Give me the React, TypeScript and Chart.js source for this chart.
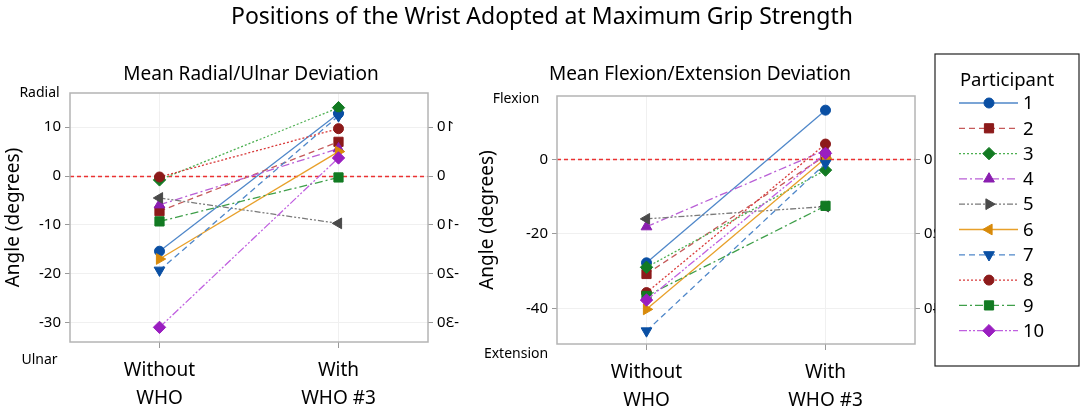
import { useEffect, useRef } from 'react';
import { Chart, registerables } from 'chart.js';
import { drawPoint } from 'chart.js/helpers';

Chart.register(...registerables);

const FONT = '"Noto Sans", "Open Sans", sans-serif';

const groups = [['Without', 'WHO'], ['With', 'WHO #3']];
const participants = ['1', '2', '3', '4', '5', '6', '7', '8', '9', '10'];

// radial (+) / ulnar (-) deviation, degrees
const radialWithout = [-15.4, -7.2, -0.8, -5.9, -4.5, -17.0, -19.3, -0.2, -9.3, -31.0];
const radialWith = [12.8, 7.0, 14.0, 5.6, -9.7, 5.0, 12.3, 9.7, -0.3, 3.7];
const radialTicks = [10, 0, -10, -20, -30];

// flexion (+) / extension (-) deviation, degrees
const flexionWithout = [-27.8, -30.8, -29.0, -18.1, -16.0, -40.3, -46.1, -35.8, -36.7, -37.8];
const flexionWith = [13.2, 1.0, -2.9, 2.5, -12.7, 0.3, -1.1, 4.1, -12.5, 1.6];
const flexionTicks = [0, -20, -40];

const lineColors = ['#4f87c9', '#c55a5a', '#4caf50', '#b95fd6', '#7a7a7a', '#e8a02a', '#4f87c9', '#d83a3a', '#3f9f4a', '#c060e0'];
const markerColors = ['#0a4fa3', '#8c1a1a', '#127a22', '#8a1eb0', '#4a4a4a', '#d88a0a', '#0a4fa3', '#8c1a1a', '#127a22', '#9a1ec0'];
const dashes = [[], [6, 4], [2, 2], [8, 3, 2, 3], [6, 2, 2, 2, 2, 2], [], [6, 4], [2, 2], [8, 3, 2, 3], [8, 2, 2, 2, 2, 2]];
const pointStyles = ['circle', 'rect', 'rectRot', 'triangle', 'triangle', 'triangle', 'triangle', 'circle', 'rect', 'rectRot'];
const pointSizes = [5, 6.5, 6.2, 6.2, 6.2, 6.2, 6.2, 5, 6.5, 6.2];
const chartRotations = [0, 0, 0, 0, -90, 90, 180, 0, 0, 0];
const legendRotations = [0, 0, 0, 0, 90, -90, 180, 0, 0, 0];

// draws zero line, frame, side labels, mirrored right ticks and the legend
const panelDecor = {
  id: 'panelDecor',
  beforeDatasetsDraw(chart: any) {
    const { ctx, chartArea: a, scales } = chart;
    const y0 = Math.round(scales.y.getPixelForValue(0)) + 0.5;
    ctx.save();
    ctx.strokeStyle = '#ea3232';
    ctx.lineWidth = 1.4;
    ctx.setLineDash([4, 3]);
    ctx.beginPath();
    ctx.moveTo(a.left, y0);
    ctx.lineTo(a.right, y0);
    ctx.stroke();
    ctx.restore();
  },
  afterDraw(chart: any, _args: any, o: any) {
    const { ctx, chartArea: a, scales } = chart;
    ctx.save();
    ctx.strokeStyle = '#b4b4b4';
    ctx.lineWidth = 1.5;
    ctx.strokeRect(a.left, a.top, a.right - a.left, a.bottom - a.top);

    ctx.fillStyle = '#000';
    ctx.font = `14px ${FONT}`;
    ctx.textAlign = 'center';
    ctx.textBaseline = 'middle';
    ctx.fillText(o.topLabel, o.labelX, a.top + o.topDy);
    ctx.fillText(o.bottomLabel, o.labelX, a.bottom + o.bottomDy);

    // right axis labels come out mirrored in the original figure
    ctx.font = `15px ${FONT}`;
    for (const v of o.ticks) {
      const y = scales.y2.getPixelForValue(v);
      ctx.save();
      ctx.translate(a.right + 9, y);
      ctx.scale(-1, 1);
      ctx.textAlign = 'right';
      ctx.fillText(String(v), 0, 0);
      ctx.restore();
    }

    if (o.legend) {
      const L = o.legend;
      ctx.fillStyle = '#fff';
      ctx.fillRect(L.x, L.y, L.w, L.h);
      ctx.strokeStyle = '#222';
      ctx.lineWidth = 1.2;
      ctx.strokeRect(L.x, L.y, L.w, L.h);
      ctx.fillStyle = '#000';
      ctx.font = `18.5px ${FONT}`;
      ctx.textAlign = 'center';
      ctx.fillText('Participant', L.x + 72, L.y + 27);
      participants.forEach((p, i) => {
        const y = L.y + 49 + i * 25.3;
        const x0 = L.x + 24;
        const x1 = L.x + 83;
        const xm = L.x + 54;
        ctx.strokeStyle = lineColors[i];
        ctx.lineWidth = 1.3;
        ctx.setLineDash(dashes[i]);
        ctx.beginPath();
        ctx.moveTo(x0, y);
        ctx.lineTo(x1, y);
        ctx.stroke();
        ctx.setLineDash([]);
        ctx.fillStyle = markerColors[i];
        ctx.strokeStyle = markerColors[i];
        ctx.lineWidth = 1;
        drawPoint(ctx, { pointStyle: pointStyles[i], rotation: legendRotations[i], radius: pointSizes[i], borderWidth: 1 } as any, xm, y);
        ctx.fillStyle = '#000';
        ctx.textAlign = 'left';
        ctx.fillText(p, L.x + 88, y + 1);
      });
    }
    ctx.restore();
  },
};

type PanelProps = {
  left: number;
  width: number;
  without: number[];
  withWho: number[];
  ticks: number[];
  min: number;
  max: number;
  top: number;
  xHeight: number;
  yWidth: number;
  y2Width: number;
  padRight: number;
  titlePad: number;
  decor: any;
};

const Panel = (p: PanelProps) => {
  const canvasRef = useRef<HTMLCanvasElement | null>(null);
  const chartRef = useRef<Chart | null>(null);

  useEffect(() => {
    if (!canvasRef.current) return;
    const ctx = canvasRef.current.getContext('2d');
    if (!ctx) return;
    if (chartRef.current) chartRef.current.destroy();

    const setTicks = (s: any) => {
      s.ticks = p.ticks.map((v) => ({ value: v }));
    };

    chartRef.current = new Chart(ctx, {
      type: 'line',
      data: {
        labels: groups,
        datasets: participants.map((name, i) => ({
          label: name,
          data: [p.without[i], p.withWho[i]],
          borderColor: lineColors[i],
          borderWidth: 1.3,
          borderDash: dashes[i],
          pointStyle: pointStyles[i] as any,
          pointRotation: chartRotations[i],
          pointRadius: pointSizes[i],
          pointBackgroundColor: markerColors[i],
          pointBorderColor: markerColors[i],
          pointBorderWidth: 1,
          order: participants.length - i,
        })),
      },
      options: {
        animation: false,
        responsive: true,
        maintainAspectRatio: false,
        layout: { padding: { top: p.top, right: p.padRight, left: 0, bottom: 0 } },
        plugins: {
          legend: { display: false },
          tooltip: { enabled: false },
          panelDecor: p.decor,
        } as any,
        scales: {
          x: {
            type: 'category',
            offset: true,
            grid: { offset: false, color: '#f0f0f0', tickColor: '#999', tickLength: 6 },
            border: { display: false },
            ticks: { color: '#000', font: { family: FONT, size: 19, lineHeight: 1.45 }, padding: 9, maxRotation: 0 },
            afterFit: (s: any) => {
              s.height = p.xHeight;
            },
          },
          y: {
            min: p.min,
            max: p.max,
            position: 'left',
            grid: { color: '#f0f0f0', tickColor: '#999', tickLength: 5 },
            border: { display: false },
            ticks: { color: '#000', font: { family: FONT, size: 15 }, padding: 4 },
            title: {
              display: true,
              text: 'Angle (degrees)',
              color: '#000',
              font: { family: FONT, size: 19 },
              padding: { top: p.titlePad, bottom: 0 },
            },
            afterBuildTicks: setTicks,
            afterFit: (s: any) => {
              s.width = p.yWidth;
            },
          },
          y2: {
            min: p.min,
            max: p.max,
            position: 'right',
            grid: { drawOnChartArea: false, tickColor: '#999', tickLength: 5 },
            border: { display: false },
            ticks: { display: false },
            afterBuildTicks: setTicks,
            afterFit: (s: any) => {
              s.width = p.y2Width;
            },
          },
        } as any,
      },
      plugins: [panelDecor],
    });

    return () => {
      chartRef.current?.destroy();
    };
  }, []);

  return (
    <div style={{ position: 'absolute', left: p.left, top: 0, width: p.width, height: 407 }}>
      <canvas ref={canvasRef} />
    </div>
  );
};

const subTitle = (text: string, cx: number) => (
  <div
    style={{
      position: 'absolute',
      left: cx - 250,
      width: 500,
      top: 61,
      lineHeight: '24px',
      fontSize: 19,
      textAlign: 'center',
      color: '#000',
    }}
  >
    {text}
  </div>
);

const App = () => {
  return (
    <div
      style={{
        position: 'absolute',
        left: 0,
        top: 0,
        width: 1084,
        height: 407,
        background: '#fff',
        fontFamily: FONT,
        overflow: 'hidden',
      }}
    >
      <Panel
        left={0}
        width={480}
        without={radialWithout}
        withWho={radialWith}
        ticks={radialTicks}
        min={-34}
        max={17}
        top={93}
        xHeight={65}
        yWidth={70}
        y2Width={52}
        padRight={0}
        titlePad={2}
        decor={{ ticks: radialTicks, topLabel: 'Radial', bottomLabel: 'Ulnar', labelX: 39.5, topDy: 0, bottomDy: 18 }}
      />
      <Panel
        left={470}
        width={614}
        without={flexionWithout}
        withWho={flexionWith}
        ticks={flexionTicks}
        min={-49.6}
        max={17}
        top={96}
        xHeight={63}
        yWidth={87}
        y2Width={20}
        padRight={149}
        titlePad={6}
        decor={{
          ticks: flexionTicks,
          topLabel: 'Flexion',
          bottomLabel: 'Extension',
          labelX: 46,
          topDy: 3,
          bottomDy: 10,
          legend: { x: 465, y: 54, w: 144, h: 312 },
        }}
      />
      <div
        style={{
          position: 'absolute',
          left: 0,
          top: 2,
          width: 1084,
          textAlign: 'center',
          fontSize: 23,
          lineHeight: '26px',
          color: '#000',
        }}
      >
        Positions of the Wrist Adopted at Maximum Grip Strength
      </div>
      {subTitle('Mean Radial/Ulnar Deviation', 251)}
      {subTitle('Mean Flexion/Extension Deviation', 700)}
    </div>
  );
};

export default App;
